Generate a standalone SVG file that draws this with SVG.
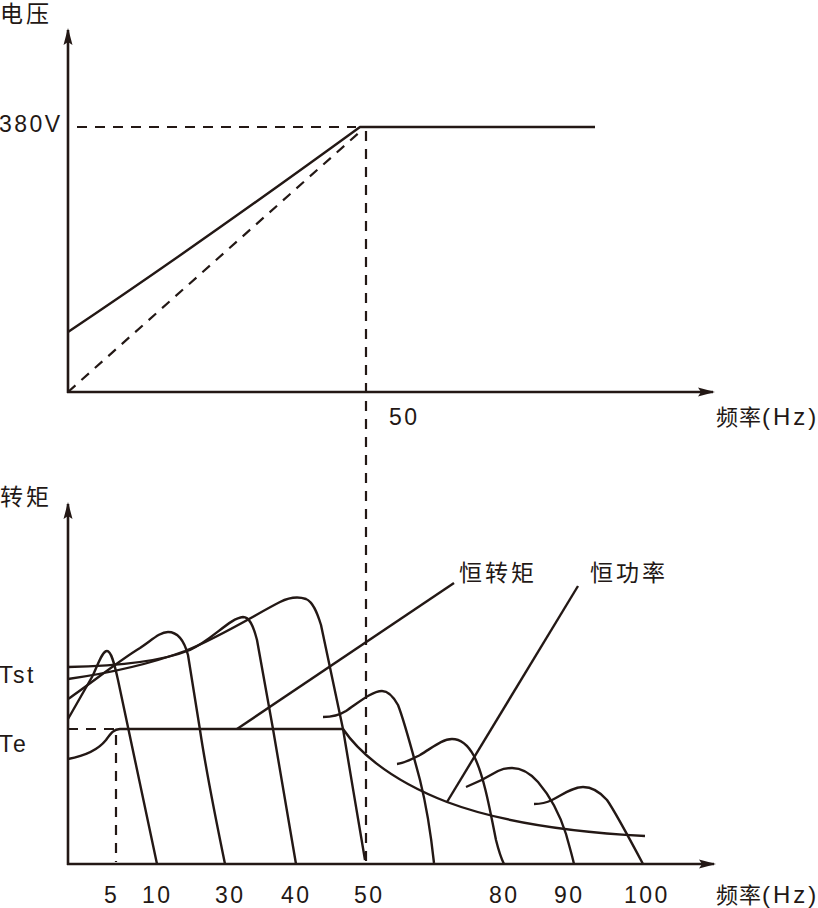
<svg xmlns="http://www.w3.org/2000/svg" width="818" height="908" viewBox="0 0 818 908">
<defs>
<style>
.ax{fill:none;stroke:#231815;stroke-width:2.6}
.c{fill:none;stroke:#231815;stroke-width:2.4;stroke-linejoin:round;stroke-linecap:butt}
.d{fill:none;stroke:#231815;stroke-width:2.2;stroke-dasharray:10 8}
.lat{font-family:"Liberation Sans",Arial,sans-serif;font-size:23px;letter-spacing:2.5px;fill:#231815}
.cjk{font-family:"Noto Sans CJK SC","Noto Sans",sans-serif;font-size:23px;letter-spacing:3px;fill:#231815}
.hz1{font-family:"Noto Sans CJK SC","Noto Sans",sans-serif;font-size:22px;letter-spacing:1px}
.hz2{font-family:"Liberation Sans",Arial,sans-serif;font-size:24px;letter-spacing:3px}
</style>
<marker id="arr" markerUnits="userSpaceOnUse" markerWidth="18" markerHeight="10" refX="15" refY="5" orient="auto">
<path d="M0,0.5 L17,5 L0,9.5 L3,5 Z" fill="#231815"/>
</marker>
</defs>
<rect width="818" height="908" fill="#ffffff"/>

<g id="top-axes">
<path class="ax" d="M68,393 V30" marker-end="url(#arr)"/>
<path class="ax" d="M67,392 H713" marker-end="url(#arr)"/>
</g>
<g id="top-curves">
<path class="d" d="M77,127 H356"/>
<path class="d" d="M68,392 L362,130"/>
<path class="c" d="M68,332 Q195,247 360,127 H595"/>
</g>

<g id="bottom-axes">
<path class="ax" d="M68,865 V504" marker-end="url(#arr)"/>
<path class="ax" d="M67,864 H714" marker-end="url(#arr)"/>
</g>

<g id="connectors">
<path class="d" d="M366,131 V862"/>
<path class="d" d="M68,729 H114"/>
<path class="d" d="M116,735 V862"/>
<path class="c" d="M237,729 L454,583"/>
<path class="c" d="M447,802 L578,586"/>
</g>

<g id="torque-curves">
<path class="c" d="M68,759 C84,756 98,750 106,740 C111,733 114,729 120,729 H343"/>
<path class="c" d="M343,729 C356,748 385,778 447,802 C500,822 570,832 645,836"/>
<path class="c" d="M68,719 L92,677 C98,665 102,651 107,651 C111,651 114,662 118,680 L157,864"/>
<path class="c" d="M68,699 C90,684 120,660 140,648 C152,640 160,632 168,632 C178,632 184,640 188,655 L200,730 C206,770 218,830 225,864"/>
<path class="c" d="M68,667 C120,666 165,660 190,650 C212,640 230,618 243,617 C249,617 253,624 257,640 L273,729 L296,864"/>
<path class="c" d="M68,679 C110,673 150,664 185,651 C220,637 260,612 280,602 C290,597 300,597 306,599 C313,602 317,612 321,625 L343,729 C350,770 358,820 365,860"/>
<path class="c" d="M323,717 C332,717 338,716 346,711 C358,703 372,691 382,691 C388,691 393,696 398,705 C404,720 412,750 420,780 C427,808 431,835 434,863"/>
<path class="c" d="M397,764 C405,763 412,759 420,755 C432,748 442,739 452,739 C460,739 468,745 474,756 C484,776 490,810 496,840 C499,852 501,858 504,864"/>
<path class="c" d="M466,787 C476,783 488,777 498,771 C504,768 508,768 512,768 C522,768 530,773 538,782 C550,796 560,815 566,834 C569,845 572,855 574,864"/>
<path class="c" d="M534,804 C541,804 546,803 552,800 C562,795 572,787 583,787 C592,787 600,792 607,800 C614,810 626,832 643,864"/>
</g>

<g id="labels">
<text class="cjk" x="0" y="22">电压</text>
<text class="lat" x="-1" y="132">380V</text>
<text class="lat" x="389" y="425">50</text>
<text x="716" y="425" fill="#231815"><tspan class="hz1">频率</tspan><tspan class="hz2">(Hz)</tspan></text>
<text class="cjk" x="0" y="505">转矩</text>
<text class="lat" x="-1" y="683">Tst</text>
<text class="lat" x="-1" y="752">Te</text>
<text class="cjk" x="459" y="581">恒转矩</text>
<text class="cjk" x="590" y="581">恒功率</text>
<text class="lat" x="104" y="903">5</text>
<text class="lat" x="142" y="903">10</text>
<text class="lat" x="215" y="903">30</text>
<text class="lat" x="281" y="903">40</text>
<text class="lat" x="354" y="903">50</text>
<text class="lat" x="489" y="903">80</text>
<text class="lat" x="554" y="903">90</text>
<text class="lat" x="624" y="903">100</text>
<text x="716" y="903" fill="#231815"><tspan class="hz1">频率</tspan><tspan class="hz2">(Hz)</tspan></text>
</g>
</svg>
